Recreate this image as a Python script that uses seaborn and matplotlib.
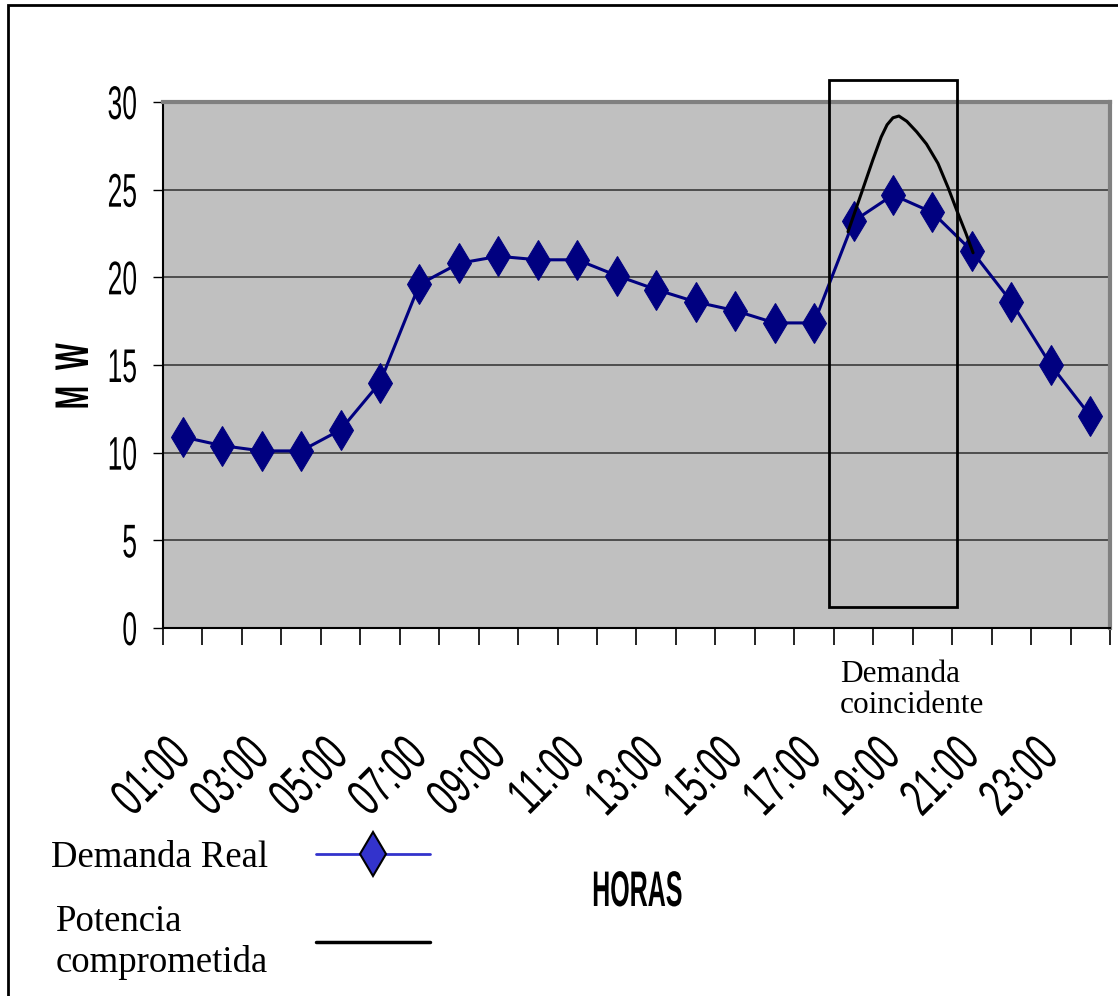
import matplotlib
matplotlib.use("Agg")
import matplotlib.pyplot as plt
import seaborn as sns
import pandas as pd
from matplotlib.lines import Line2D
from matplotlib.patches import Rectangle
from matplotlib.patheffects import AbstractPathEffect
from matplotlib.transforms import Affine2D, Bbox, TransformedBbox

# hourly demand (MW), 01:00 .. 24:00
horas = [f"{h:02d}:00" for h in range(1, 25)]
demanda_real = [10.9, 10.4, 10.1, 10.1, 11.3, 14.0, 19.6, 20.8, 21.2, 21.0, 21.0, 20.1,
                19.3, 18.6, 18.1, 17.4, 17.4, 23.2, 24.7, 23.7, 21.5, 18.6, 15.0, 12.1]

# hand-drawn "potencia comprometida" curve over the peak (hour index, MW)
potencia_x = [16.86, 17.2, 17.49, 17.7, 17.85, 18.0, 18.15, 18.35, 18.6, 18.85, 19.14, 19.4, 19.62, 19.85, 20.03]
potencia_y = [22.6, 24.8, 26.7, 28.0, 28.7, 29.1, 29.2, 28.9, 28.3, 27.6, 26.5, 25.1, 23.8, 22.5, 21.4]

# box marking the coincident demand window
caja_x = [16.38, 19.62]
caja_y = [1.2, 31.26]


class Condense(AbstractPathEffect):
    """squeeze glyphs horizontally (in the text's own frame) to fake a narrow font"""

    def __init__(self, sx, anchor="right"):
        super().__init__()
        self.sx = sx
        self.anchor = anchor

    def draw_path(self, renderer, gc, tpath, affine, rgbFace=None):
        ext = tpath.get_extents()
        if self.anchor == "right":
            x0 = ext.x1
        elif self.anchor == "center":
            x0 = (ext.x0 + ext.x1) / 2
        else:
            x0 = ext.x0
        t = Affine2D().translate(-x0, 0).scale(self.sx, 1).translate(x0, 0) + affine
        renderer.draw_path(gc, tpath, t, rgbFace)


df = pd.DataFrame({"hora": range(len(horas)), "mw": demanda_real})
dfp = pd.DataFrame({"hora": potencia_x, "mw": potencia_y})

sns.set_theme(style="white")
sans = ["Liberation Sans", "DejaVu Sans"]
serif = ["Liberation Serif", "DejaVu Serif"]
plt.rcParams["font.family"] = sans
for k in ["text.color", "axes.labelcolor", "xtick.color", "ytick.color"]:
    plt.rcParams[k] = "black"

fig = plt.figure(figsize=(11.18, 9.96), dpi=100)
ax = fig.add_axes([163 / 1118, 368 / 996, 947 / 1118, 526 / 996])
ax.set_facecolor("#C0C0C0")

sns.lineplot(data=df, x="hora", y="mw", ax=ax, color="#000080", linewidth=2.2,
             marker="d", markersize=20, markeredgecolor="#000080", legend=False)
sns.lineplot(data=dfp, x="hora", y="mw", ax=ax, color="black", linewidth=2.2,
             sort=False, estimator=None, legend=False)

ax.set_xlim(-0.5, len(horas) - 0.5)
ax.set_ylim(0, 30)
ax.set_yticks(range(0, 31, 5))
for y in range(5, 30, 5):
    ax.axhline(y, color="#3a3a3a", linewidth=1.2, zorder=0.5)
ax.tick_params(axis="y", labelsize=34, length=7, width=1, direction="out", left=True, pad=11)
for lbl in ax.get_yticklabels():
    lbl.set_path_effects([Condense(0.56, "right")])

# category boundary ticks (no labels) + labels on every other hour
ax.set_xticks([i - 0.5 for i in range(len(horas) + 1)])
ax.set_xticklabels([])
ax.tick_params(axis="x", which="major", length=12, width=1.2, direction="out", bottom=True)
ax.set_xticks(list(range(0, len(horas), 2)), minor=True)
ax.set_xticklabels(horas[::2], minor=True)
ax.tick_params(axis="x", which="minor", length=0, labelsize=38, pad=86)
clip = TransformedBbox(Bbox([[0, 0], [1, 261 / 996]]), fig.transFigure)
for lbl in ax.get_xticklabels(minor=True):
    lbl.set_rotation(45)
    lbl.set_ha("right")
    lbl.set_va("center")
    lbl.set_rotation_mode("anchor")
    lbl.set_clip_box(clip)
    lbl.set_clip_on(True)
    lbl.set_path_effects([Condense(0.64, "right")])

for side in ["left", "bottom"]:
    ax.spines[side].set_color("black")
    ax.spines[side].set_linewidth(1.5)
for side in ["top", "right"]:
    ax.spines[side].set_color("#808080")
    ax.spines[side].set_linewidth(3)

ax.set_xlabel("")
ax.set_ylabel("")
t = fig.text(76 / 1118, 1 - 377 / 996, "M  W", rotation=90, ha="center", va="center",
             fontsize=34, fontweight="bold", family=sans)
t.set_path_effects([Condense(0.6, "center")])
t = fig.text(637 / 1118, 1 - 893 / 996, "HORAS", ha="center", va="center",
             fontsize=36, fontweight="bold", family=sans)
t.set_path_effects([Condense(0.5, "center")])

ax.add_patch(Rectangle((caja_x[0], caja_y[0]), caja_x[1] - caja_x[0], caja_y[1] - caja_y[0],
                       fill=False, edgecolor="black", linewidth=2, clip_on=False, zorder=5))
fig.text(840 / 1118, 1 - 690 / 996, "Demanda\ncoincidente", ha="left", va="center",
         fontsize=22.5, family=serif, linespacing=1.1)

handles = [
    Line2D([], [], color="#3333CC", linewidth=2, marker="d", markersize=22,
           markerfacecolor="#3333CC", markeredgecolor="black", markeredgewidth=1.5),
    Line2D([], [], color="black", linewidth=2.5),
]
fig.legend(handles, ["Demanda Real", "Potencia\ncomprometida"], loc="upper left",
           bbox_to_anchor=(36 / 1118, 1 - 826 / 996), frameon=False, markerfirst=False,
           prop={"family": serif, "size": 26.5}, handlelength=3.1, handletextpad=1.3,
           labelspacing=0.8, borderaxespad=0)

# outer chart border
fig.patches.append(Rectangle((8 / 1118, -0.1), 1.2, 1.1 - 5 / 996, transform=fig.transFigure,
                             fill=False, edgecolor="black", linewidth=2, figure=fig))

fig.savefig("out.png", dpi=100)
